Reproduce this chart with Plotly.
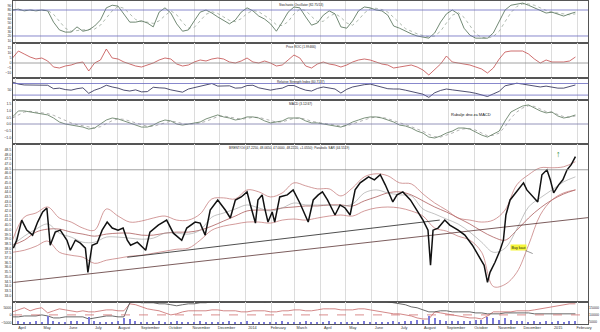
import pandas as pd
import plotly.graph_objects as go

# ---------------- data ----------------
week_start = pd.Timestamp("2013-03-29")
n_weeks = 97

stoch_k = [80, 82, 78, 80, 78, 80, 78, 52, 34, 29, 29, 41, 31, 34, 43, 57, 85, 91, 89, 71,
           52, 52, 55, 50, 41, 75, 85, 73, 48, 31, 34, 55, 75, 80, 73, 64, 55, 48, 57, 75,
           85, 78, 66, 59, 48, 31, 52, 75, 87, 85, 64, 45, 50, 68, 78, 71, 41, 38, 55, 78,
           87, 85, 80, 78, 68, 43, 38, 31, 25, 20, 18, 15, 27, 52, 71, 80, 71, 38, 22, 15,
           15, 15, 27, 52, 80, 91, 94, 96, 91, 85, 78, 73, 75, 71, 66, 71, 75]
stoch_d = [80, 80, 80, 80, 79, 79, 79, 70, 54, 38, 31, 33, 34, 35, 36, 45, 62, 78, 88, 84,
           71, 58, 53, 52, 49, 55, 67, 78, 69, 51, 38, 40, 55, 70, 76, 72, 64, 56, 53, 60,
           72, 79, 76, 68, 58, 46, 44, 53, 71, 82, 79, 65, 53, 54, 65, 72, 63, 50, 45, 57,
           73, 83, 84, 81, 75, 63, 50, 37, 31, 25, 21, 18, 20, 31, 50, 68, 74, 63, 44, 25,
           17, 15, 19, 31, 53, 74, 88, 94, 94, 91, 85, 79, 75, 73, 71, 69, 71]
roc = [5, 12, 9, 6, 4, 5, 2, -4, -5, -3, -2, 0, 1, -8, 0, 3, 14, 5, 4, 1,
       -1, -3, -4, -2, 0, 3, 5, 4, -1, -3, -2, 1, 3, 2, 4, 5, 4, 1, 0, 2,
       5, 1, 0, 2, 0, -3, -2, 3, 8, 5, -3, -5, -1, 1, -1, -2, -4, -2, 1, 3,
       4, 3, 1, -1, -2, -5, -4, -3, -2, -4, -7, -12, -6, -1, 7, 1, 0, -1, -2, -4,
       -6, -10, -5, 4, 11, 12, 12, 12, 9, 4, 0, 3, 1, 1, 1, 2, 6]
rsi = [75, 68, 65, 65, 65, 66, 64, 52, 54, 49, 47, 52, 55, 36, 47, 54, 64, 58, 54, 47,
       44, 48, 41, 42, 57, 55, 54, 48, 44, 40, 51, 56, 61, 67, 70, 61, 62, 62, 54, 55,
       63, 64, 55, 50, 47, 51, 54, 63, 63, 54, 47, 44, 53, 58, 54, 51, 37, 50, 58, 63,
       66, 68, 62, 56, 52, 51, 51, 47, 42, 39, 33, 22, 38, 46, 51, 48, 46, 44, 40, 36,
       30, 25, 34, 43, 62, 66, 71, 68, 64, 60, 58, 61, 57, 54, 54, 60, 65]
macd = [0.53, 0.98, 0.98, 0.90, 0.83, 0.75, 0.68, 0.45, 0.15, 0.0, -0.08, -0.15, -0.23, -0.38, -0.30, 0.0,
        0.30, 0.45, 0.38, 0.23, 0.08, -0.08, -0.23, -0.23, -0.08, 0.15, 0.30, 0.23, 0.0, -0.08, 0.0, 0.08,
        0.15, 0.38, 0.53, 0.68, 0.53, 0.45, 0.30, 0.38, 0.53, 0.53, 0.45, 0.23, 0.08, 0.15, 0.23, 0.45,
        0.45, 0.45, 0.23, 0.08, 0.08, 0.0, -0.08, -0.15, -0.23, -0.08, 0.15, 0.30, 0.45, 0.53, 0.53, 0.45,
        0.30, 0.15, -0.08, -0.15, -0.30, -0.53, -0.68, -0.98, -1.05, -0.90, -0.68, -0.53, -0.30, -0.30, -0.38, -0.60,
        -0.83, -0.98, -0.75, -0.53, 0.23, 0.90, 1.13, 1.35, 1.43, 1.20, 0.98, 0.83, 0.90, 0.60, 0.45, 0.53, 0.68]
macd_signal = [0.45, 0.7, 0.9, 0.95, 0.9, 0.85, 0.78, 0.65, 0.45, 0.25, 0.08, -0.05, -0.15, -0.25, -0.3, -0.2,
               0.0, 0.25, 0.38, 0.35, 0.22, 0.08, -0.08, -0.18, -0.18, -0.05, 0.12, 0.22, 0.15, 0.03, -0.03, 0.02,
               0.08, 0.2, 0.38, 0.55, 0.6, 0.52, 0.42, 0.36, 0.42, 0.5, 0.5, 0.38, 0.22, 0.14, 0.16, 0.3,
               0.42, 0.45, 0.36, 0.2, 0.1, 0.05, 0.0, -0.08, -0.16, -0.14, 0.0, 0.18, 0.33, 0.45, 0.52, 0.5,
               0.4, 0.26, 0.08, -0.06, -0.2, -0.38, -0.55, -0.78, -0.95, -0.98, -0.85, -0.68, -0.48, -0.36, -0.35, -0.46,
               -0.68, -0.88, -0.85, -0.68, -0.2, 0.45, 0.9, 1.2, 1.37, 1.32, 1.12, 0.93, 0.88, 0.72, 0.55, 0.52, 0.6]

# on-balance style lines and volume (bottom panel)
obv_main = [-1300, -1300, -700, -700, -700, 0, -700, -2000, -2000, -1300, -1300, -1300, -1300, -2700, -2000, -1300,
            -700, -700, -1300, -1300, 8000, 8700, 8000, 8000, 8000, 7300, 7300, 6700, 6000, 6700, 7300, 7300,
            8000, 8000, 8700, 8700, 8700, 8700, 9300, 9300, 9300, 9300, 9300, 8700, 9300, 9300, 9300, 10000,
            10000, 9300, 9300, 10000, 10000, 10000, 10000, 9300, 9300, 10000, 10000, 10700, 10700, 10700, 10000, 9300,
            8700, 8000, 7300, 6700, 5300, 4700, 3300, 2000, 2000, 2700, 2700, 2000, 2000, 2000, 2000, 1300,
            1300, 700, 700, 700, 1300, 1300, 1300, 1300, 1300, 700, 700, 700, 700, 700, 700, 700, 700]
obv_alt = [2000, 3300, 4700, 2700, 4000, 4700, 1300, 2700, 4000, 3300, 2700, 2000, 2700, 2000, 2000, 2700,
           3300, 3300, 2700, 2700, 7300, 6700, 5300, 4000, 3300, 2700, 1300, 0, 700, 2000, 2700, 2700,
           2700, 2700, 3300, 3300, 2700, 2700, 2700, 2000, 2000, 2700, 2700, 2700, 2000, 2000, 2700, 2700,
           3300, 3300, 2700, 2700, 3300, 4000, 4000, 4000, 3300, 3300, 3300, 4000, 4000, 3300, 2700, 2000,
           1300, 700, 700, 0, -700, -2000, -2700, -2700, 2000, 1300, 700, 0, -700, -1300, -2000, -2000,
           -2700, -700, 2000, 2000, 2000, 2000, 2700, 2700, 2700, 3300, 4000, 4700, 5300, 6000, 6700, 7300, 7300]
volume = [5200, 5600, 4900, 5300, 6000, 5200, 9500, 5600, 4900, 5300, 5600, 6000, 5200, 8500, 6000, 5300,
          4900, 5300, 5600, 8000, 7000, 5600, 5300, 4900, 5300, 5600, 4900, 5300, 5600, 5300, 4900, 5300,
          5600, 5300, 4900, 5300, 5300, 5600, 4900, 5300, 5600, 5300, 4900, 5300, 5300, 4900, 5600, 5300,
          4900, 5300, 5600, 5300, 4900, 5300, 5600, 5300, 4900, 5300, 5300, 4900, 5600, 5300, 4900, 5300,
          5300, 5600, 5300, 5600, 6000, 6400, 6800, 9500, 7800, 6400, 6000, 5600, 6000, 5600, 6000, 6400,
          6800, 8500, 7800, 6800, 7800, 6400, 6000, 5600, 5300, 5600, 5300, 5600, 5300, 5600, 5300, 5600, 6000]

# price overlays on a fortnightly grid
bb_upper = [38.87, 41.33, 41.76, 42.40, 41.23, 40.80, 40.16, 39.94, 42.19, 41.44, 40.80, 40.91, 41.23, 41.44,
            41.01, 41.01, 41.66, 43.26, 43.37, 43.26, 44.22, 44.01, 43.47, 43.90, 44.97, 44.65, 44.33, 44.33,
            43.58, 44.44, 45.61, 45.93, 45.72, 44.97, 44.86, 43.79, 42.83, 42.08, 41.23, 41.01, 40.80, 41.01,
            42.08, 44.76, 45.83, 46.57, 46.57, 46.68, 47.22]
bb_mid = [38.34, 39.30, 40.05, 40.59, 39.62, 39.20, 38.66, 38.66, 39.20, 39.20, 39.09, 38.98, 39.09, 39.62,
          39.62, 39.52, 39.94, 41.33, 41.76, 42.19, 42.62, 42.30, 41.98, 42.30, 42.83, 42.62, 42.62, 42.62,
          42.51, 42.72, 43.90, 44.22, 43.90, 43.69, 43.58, 42.19, 41.66, 41.12, 40.59, 39.73, 38.66, 37.59,
          38.02, 40.05, 42.40, 43.37, 44.22, 45.08, 45.61]
bb_lower = [37.59, 37.80, 38.23, 38.77, 37.59, 37.27, 37.06, 36.41, 36.74, 36.95, 37.16, 37.27, 37.48, 37.70,
            37.91, 38.02, 38.87, 39.94, 40.37, 40.59, 40.80, 40.80, 40.69, 41.01, 41.12, 41.01, 41.23, 41.44,
            41.55, 41.44, 41.98, 42.30, 42.40, 42.30, 41.98, 41.44, 40.16, 39.84, 39.30, 38.87, 37.59, 33.95,
            34.17, 35.45, 38.34, 41.55, 43.15, 43.90, 44.22]
ma_long = [38.34, 38.87, 39.73, 40.05, 40.05, 39.73, 39.52, 39.30, 39.52, 39.62, 39.62, 39.41, 39.41, 39.62,
           39.73, 39.73, 39.94, 40.37, 40.91, 41.44, 41.98, 42.08, 42.08, 42.30, 42.40, 42.51, 42.51, 42.62,
           42.62, 42.51, 43.05, 43.47, 43.90, 44.01, 43.69, 43.05, 42.40, 41.87, 41.23, 40.59, 39.84, 39.20,
           38.87, 39.94, 41.23, 42.30, 43.15, 43.79, 44.22]

# closing price path (day offsets from week_start)
price_day = [1, 5, 11, 17, 24, 30, 36, 41, 45, 51, 57, 65, 69, 75, 81, 87, 90, 95, 101, 107,
             113, 119, 126, 132, 137, 141, 149, 159, 164, 174, 184, 192, 202, 208, 218, 224, 230, 236, 245, 254,
             260, 266, 273, 280, 284, 290, 293, 298, 301, 305, 310, 313, 319, 328, 335, 343, 353, 359, 365, 370,
             376, 385, 391, 397, 403, 409, 415, 425, 432, 439, 445, 454, 459, 466, 475, 483, 490, 496, 499, 502,
             508, 516, 522, 532, 540, 549, 556, 563, 567, 570, 576, 582, 586, 589, 594, 602, 610, 614, 621, 627,
             632, 638, 642, 646, 652, 657, 662, 667, 672]
price_close = [38.02, 38.87, 41.01, 39.94, 39.41, 40.80, 41.87, 42.30, 38.34, 39.73, 39.94, 38.87, 37.80, 38.87,
               38.55, 38.02, 35.45, 38.34, 38.55, 39.94, 40.80, 40.16, 39.94, 40.16, 38.87, 38.34, 38.66, 37.80,
               39.73, 40.48, 41.01, 39.62, 38.87, 40.16, 40.80, 40.69, 39.41, 42.08, 43.15, 42.08, 41.23, 43.15,
               43.47, 44.01, 42.62, 40.69, 43.15, 43.69, 42.30, 40.80, 41.87, 40.80, 43.47, 43.69, 44.22, 42.83,
               40.80, 43.15, 43.69, 44.01, 43.15, 41.55, 42.62, 42.30, 41.55, 44.22, 44.97, 45.61, 45.29, 45.83,
               44.76, 42.94, 43.69, 44.01, 43.15, 42.08, 41.01, 39.94, 36.20, 39.94, 40.16, 41.01, 40.48, 39.94,
               39.41, 38.34, 37.27, 36.20, 34.38, 35.45, 36.52, 37.80, 38.87, 41.55, 43.15, 44.01, 44.97, 44.22,
               43.47, 42.94, 45.83, 46.36, 45.29, 43.90, 44.76, 45.29, 46.36, 46.90, 47.75]

# drawn trend lines (day offset, price)
support_day = [1, 687]
support_price = [34.38, 41.27]
trend_day = [137, 510]
trend_price = [37.06, 41.01]
resistance_level = 46.36

month_labels = ["April", "May", "June", "July", "August", "September", "October", "November",
                "December", "2014", "February", "March", "April", "May", "June", "July", "August",
                "September", "October", "November", "December", "2015", "February"]
month_starts = pd.date_range("2013-04-01", periods=len(month_labels), freq="MS")

# ---------------- figure ----------------
weeks = week_start + pd.to_timedelta([7 * i for i in range(n_weeks)], unit="D")
fortnights = week_start + pd.to_timedelta([14 * i for i in range(len(bb_upper))], unit="D")
price_dates = week_start + pd.to_timedelta(price_day, unit="D")
x_range = [week_start + pd.Timedelta(hours=14), week_start + pd.Timedelta(days=687)]

FONT = "Liberation Sans, Arial, sans-serif"
W, H = 600, 332
ML, MR, MT, MB = 13, 12, 1, 8
ph = H - MT - MB


def dom(top_px, bot_px):
    return [(H - MB - bot_px) / ph, (H - MB - top_px) / ph]


panels = {
    1: dict(dom=dom(1, 43), rng=[3.8, 100.8], ticks=[0, 10, 20, 30, 40, 50, 60, 70, 80, 90, 100]),
    2: dict(dom=dom(43, 78), rng=[-15, 20], ticks=[-10, -5, 0, 5, 10, 15]),
    3: dict(dom=dom(78, 100), rng=[13, 89], ticks=[50]),
    4: dict(dom=dom(100, 144), rng=[-1.5, 1.8], ticks=[-1.0, -0.5, 0.0, 0.5, 1.0, 1.5]),
    5: dict(dom=dom(144, 302), rng=[32.3, 49.1], ticks=[33 + 0.5 * i for i in range(32)]),
    6: dict(dom=dom(302, 324), rng=[-6000, 8500], ticks=[-5000, 0, 5000]),
}
tickfmt = {1: "d", 2: "d", 3: "d", 4: ".1f", 5: ".1f", 6: "d"}

fig = go.Figure()


def add(tr, row):
    tr.update(xaxis="x" if row == 1 else f"x{row}", yaxis="y" if row == 1 else f"y{row}",
              showlegend=False, hoverinfo="skip")
    fig.add_trace(tr)


# stochastic
add(go.Scatter(x=weeks, y=stoch_d, mode="lines", line=dict(color="#9aa89a", width=0.8, dash="dot")), 1)
add(go.Scatter(x=weeks, y=stoch_k, mode="lines", line=dict(color="#4d6b50", width=0.8)), 1)
# price ROC
add(go.Scatter(x=weeks, y=roc, mode="lines", line=dict(color="#c24a4a", width=0.8)), 2)
# RSI
add(go.Scatter(x=weeks, y=rsi, mode="lines", line=dict(color="#23234d", width=0.8)), 3)
# MACD
add(go.Scatter(x=weeks, y=macd_signal, mode="lines", line=dict(color="#a0a0a0", width=0.8, dash="dot")), 4)
add(go.Scatter(x=weeks, y=macd, mode="lines", line=dict(color="#5a765a", width=0.8)), 4)
# price panel
add(go.Scatter(x=fortnights, y=ma_long, mode="lines", line=dict(color="#a04848", width=0.7, shape="spline")), 5)
add(go.Scatter(x=fortnights, y=bb_upper, mode="lines", line=dict(color="#c07070", width=0.7, shape="spline")), 5)
add(go.Scatter(x=fortnights, y=bb_lower, mode="lines", line=dict(color="#c07070", width=0.7, shape="spline")), 5)
add(go.Scatter(x=fortnights, y=bb_mid, mode="lines", line=dict(color="#9a9a9a", width=0.6, shape="spline")), 5)
add(go.Scatter(x=week_start + pd.to_timedelta(support_day, unit="D"), y=support_price, mode="lines",
               line=dict(color="#5a3434", width=0.8)), 5)
add(go.Scatter(x=week_start + pd.to_timedelta(trend_day, unit="D"), y=trend_price, mode="lines",
               line=dict(color="#222222", width=0.8)), 5)
add(go.Scatter(x=price_dates, y=price_close, mode="lines", line=dict(color="#111111", width=1.5)), 5)
# bottom panel
add(go.Bar(x=weeks, y=volume, marker=dict(color="#7a7ad8", line=dict(width=0)), width=1.6 * 86400000), 6)
fig.data[-1].update(yaxis="y12")
add(go.Scatter(x=weeks, y=obv_alt, mode="lines", line=dict(color="#c86a6a", width=0.8)), 6)
add(go.Scatter(x=weeks, y=obv_main, mode="lines", line=dict(color="#444444", width=0.8)), 6)

axis_font = dict(family=FONT, size=3.6, color="#333333")
layout = dict(width=W, height=H, margin=dict(l=ML, r=MR, t=MT, b=MB),
              paper_bgcolor="white", plot_bgcolor="white", bargap=0)

for r, p in panels.items():
    xa = "xaxis" if r == 1 else f"xaxis{r}"
    ya = "yaxis" if r == 1 else f"yaxis{r}"
    layout[xa] = dict(domain=[0, 1], anchor="y" if r == 1 else f"y{r}", type="date", range=x_range,
                      matches=None if r == 1 else "x", tickvals=month_starts, ticktext=month_labels,
                      showticklabels=(r == 6), tickfont=dict(family=FONT, size=3.8, color="#333"),
                      ticks="", ticklabelshift=7 if r == 6 else 0,
                      showgrid=True, gridcolor="#dcdcdc", gridwidth=0.6, zeroline=False,
                      showline=True, linecolor="#555", linewidth=0.8, mirror=True)
    layout[ya] = dict(domain=p["dom"], anchor="x" if r == 1 else f"x{r}", range=p["rng"],
                      tickvals=p["ticks"], tickformat=tickfmt[r], showgrid=False, zeroline=False,
                      tickfont=axis_font, ticks="", ticklen=0, side="left",
                      showline=True, linecolor="#555", linewidth=0.8, mirror=True)
    if r < 6:
        layout[f"yaxis{r + 6}"] = dict(domain=p["dom"], anchor="x" if r == 1 else f"x{r}",
                                        overlaying="y" if r == 1 else f"y{r}", side="right", range=p["rng"],
                                        tickvals=p["ticks"], tickformat=tickfmt[r], showgrid=False,
                                        zeroline=False, tickfont=axis_font, ticks="")
layout["yaxis12"] = dict(domain=panels[6]["dom"], anchor="x6", overlaying="y6", side="right",
                         range=[3700, 19000], tickvals=[5000, 10000, 15000], tickformat="d",
                         showgrid=False, zeroline=False, tickfont=axis_font, ticks="")
fig.update_layout(**layout)

# reference levels
levels = [(1, 80, "#6a6ac0", "solid"), (1, 20, "#6a6ac0", "solid"), (2, 0, "#8a8a8a", "solid"),
          (3, 70, "#6a6ac0", "solid"), (3, 30, "#6a6ac0", "solid"), (4, 0, "#7a7aa8", "solid"),
          (5, resistance_level, "#888888", "solid"), (6, 0, "#d07070", "dash")]
for r, v, c, d in levels:
    fig.add_shape(type="line", xref="x domain" if r == 1 else f"x{r} domain", x0=0, x1=1,
                  yref="y" if r == 1 else f"y{r}", y0=v, y1=v, line=dict(color=c, width=0.8, dash=d))

# panel captions
title_font = dict(family=FONT, size=3.2, color="#222")
captions = [(1, "Stochastic Oscillator (82.75/13)"), (2, "Price ROC (1.99466)"),
            (3, "Relative Strength Index (60.7137)"), (4, "MACD (3.12/47)"),
            (5, "BRENT/Oil (47.2250, 48.0650, 47.0000, 48.2220, +1.0550); Parabolic SAR (44.5519)")]
for r, t in captions:
    fig.add_annotation(xref="paper", yref=("y domain" if r == 1 else f"y{r} domain"), x=0.5 if r != 5 else 0.48,
                       y=1, yanchor="top", text=t, showarrow=False, font=title_font)

fig.add_annotation(xref="x4", yref="y4", x=pd.Timestamp("2014-09-27"), y=0.7, text="Rubalje dno za MACD",
                   showarrow=False, font=dict(family=FONT, size=4, color="#111"))
fig.add_annotation(xref="x5", yref="y5", x=pd.Timestamp("2014-12-10"), y=37.45, text="Buy kaut",
                   showarrow=True, ax=-14, ay=-6, arrowhead=0, arrowwidth=0.6, arrowcolor="#555",
                   bgcolor="#f5f53a", borderpad=0.5, font=dict(family=FONT, size=3.6, color="#111"))
fig.add_annotation(xref="x5", yref="y5", x=pd.Timestamp("2015-01-10"), y=48.0, text="↑", showarrow=False,
                   font=dict(family=FONT, size=9, color="#2e8b2e"))

fig.write_html("out.html")
